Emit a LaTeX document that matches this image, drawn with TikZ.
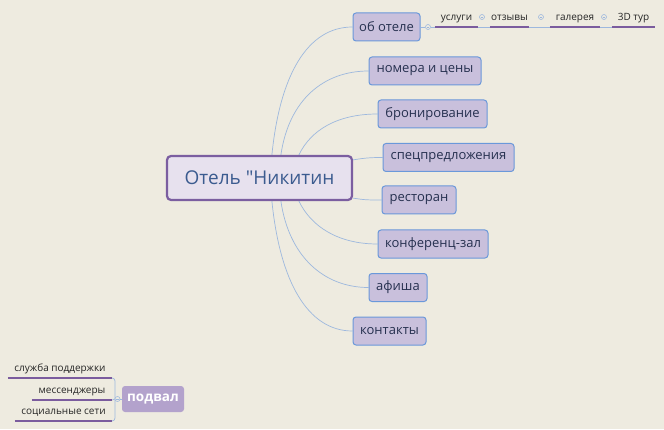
\documentclass[tikz,border=0pt]{standalone}
\usepackage{fontspec}
\setmainfont{Open Sans}[Ligatures=TeXOff]
\usetikzlibrary{calc}
\pgfdeclarelayer{bottom}
\pgfdeclarelayer{background}
\pgfsetlayers{bottom,background,main}
\definecolor{bg}{HTML}{EEEBE0}
\definecolor{cfill}{HTML}{E7E1EE}
\definecolor{cbord}{HTML}{7B5EA0}
\definecolor{ctext}{HTML}{3B5B8F}
\definecolor{tfill}{HTML}{C9C0DC}
\definecolor{tbord}{HTML}{6A98DA}
\definecolor{ttext}{HTML}{26304F}
\definecolor{lconn}{HTML}{9DB8DE}
\definecolor{uline}{HTML}{7B5C9E}
\definecolor{ffill}{HTML}{B3A2CC}
\tikzset{
  central/.style={draw=cbord, line width=2.2pt, fill=cfill, rounded corners=4pt,
    minimum width=185pt, minimum height=44pt, inner sep=0pt, text=ctext,
    font=\fontsize{19}{21}\selectfont},
  topic/.style={draw=tbord, line width=1pt, fill=tfill, rounded corners=3pt,
    minimum height=28pt, inner sep=0pt, text=ttext, font=\fontsize{13}{15}\selectfont},
  subt/.style={inner xsep=0pt, inner ysep=4pt, text height=7.5pt, text depth=2.5pt,
    text=black!85, font=\fontsize{10}{12}\selectfont},
  conn/.style={draw=lconn, line width=0.7pt},
  ul/.style={draw=uline, line width=1.4pt},
  knob/.style={circle, draw=lconn, line width=0.6pt, fill=bg, minimum size=5pt, inner sep=0pt},
  foot/.style={fill=ffill, rounded corners=3pt, minimum width=62pt, minimum height=26pt,
    inner sep=0pt, text=white, font=\fontsize{13.5}{15}\selectfont\bfseries},
}
\begin{document}
\begin{tikzpicture}[x=1pt,y=1pt]
\useasboundingbox (0,0) rectangle (664,429);
\begin{pgfonlayer}{bottom}
\fill[bg] (0,0) rectangle (664,429);
\end{pgfonlayer}

% central
\node[central] (c) at (259.5,251) {Отель "Никитин};

% topics
\node[topic, minimum width=67pt]  (t1) at (386.5,402) {об отеле};
\node[topic, minimum width=112pt] (t2) at (425,358) {номера и цены};
\node[topic, minimum width=109pt] (t3) at (432.5,315) {бронирование};
\node[topic, minimum width=131pt] (t4) at (448.5,271.5) {спецпредложения};
\node[topic, minimum width=74pt]  (t5) at (419,229) {ресторан};
\node[topic, minimum width=110pt] (t6) at (433,185) {конференц-зал};
\node[topic, minimum width=58pt]  (t7) at (398,141.5) {афиша};
\node[topic, minimum width=73pt]  (t8) at (389.5,98) {контакты};

% start points on central node
\coordinate (s1) at ($(c.north west)+(106,0)$);
\coordinate (s2) at ($(c.north west)+(115,0)$);
\coordinate (s3) at ($(c.north west)+(133,0)$);
\coordinate (s4) at ($(c.north east)+(0,-5)$);
\coordinate (s5) at ($(c.south east)+(0,3)$);
\coordinate (s6) at ($(c.south west)+(133,0)$);
\coordinate (s7) at ($(c.south west)+(115,0)$);
\coordinate (s8) at ($(c.south west)+(106,0)$);

\begin{pgfonlayer}{background}
\draw[conn] (s1) .. controls +(8,80) and +(-45,0) .. (t1.west);
\draw[conn] (s2) .. controls +(8,55) and +(-45,0) .. (t2.west);
\draw[conn] (s3) .. controls +(12,25) and +(-40,0) .. (t3.west);
\draw[conn] (s4) .. controls +(12,2) and +(-12,0) .. (t4.west);
\draw[conn] (s5) .. controls +(12,-2) and +(-12,0) .. (t5.west);
\draw[conn] (s6) .. controls +(12,-25) and +(-40,0) .. (t6.west);
\draw[conn] (s7) .. controls +(8,-55) and +(-45,0) .. (t7.west);
\draw[conn] (s8) .. controls +(8,-80) and +(-45,0) .. (t8.west);
\end{pgfonlayer}

% subtopics of об отеле
\node[subt, anchor=south, minimum width=43pt] (u1) at (456.5,402) {услуги};
\node[subt, anchor=south, minimum width=39pt] (u2) at (509.5,402) {отзывы};
\node[subt, anchor=south, minimum width=50pt] (u3) at (575,402) {галерея};
\node[subt, anchor=south, minimum width=43pt] (u4) at (633.5,402) {3D тур};
\node[knob] (k0) at (428,402) {};
\begin{pgfonlayer}{background}
\draw[conn] (t1.east) -- (k0.west);
\draw[conn] (k0.east) -- (u1.south west);
\draw[conn] (u1.south east) -- (u2.south west);
\draw[conn] (u2.south east) -- (u3.south west);
\draw[conn] (u3.south east) -- (u4.south west);
\end{pgfonlayer}
\foreach \a in {u1,u2,u3,u4}{
  \draw[ul] (\a.south west) -- (\a.south east);
}
\node[knob] (k1) at (482,412) {};
\node[knob] (k2) at (541,412) {};
\node[knob] (k3) at (604,412) {};
\foreach \k in {k0,k1,k2,k3}{
  \draw[draw=lconn, line width=0.5pt] ($(\k.center)+(-1.3,0)$) -- ($(\k.center)+(1.3,0)$);
}

% footer
\node[foot] (p) at (153,30) {подвал};
\node[subt, anchor=south, minimum width=104pt] (f1) at (60,51) {служба поддержки};
\node[subt, anchor=south, minimum width=80pt]  (f2) at (72,29) {мессенджеры};
\node[subt, anchor=south, minimum width=97pt]  (f3) at (63.5,8) {социальные сети};
\coordinate (fb) at (115,30);
\node[knob] (fk) at (117.5,30) {};
\begin{pgfonlayer}{background}
\draw[conn, rounded corners=3pt] (f1.south east) -| (fb) |- (f3.south east);
\draw[conn] (f2.south east) -- (fb);
\draw[conn] (fk.east) -- (p.west);
\end{pgfonlayer}
\draw[draw=lconn, line width=0.5pt] ($(fk.center)+(-1.3,0)$) -- ($(fk.center)+(1.3,0)$);
\draw[ul] (f1.south west) -- (f1.south east);
\draw[ul] (f2.south west) -- (f2.south east);
\draw[ul] (f3.south west) -- (f3.south east);
\end{tikzpicture}
\end{document}
